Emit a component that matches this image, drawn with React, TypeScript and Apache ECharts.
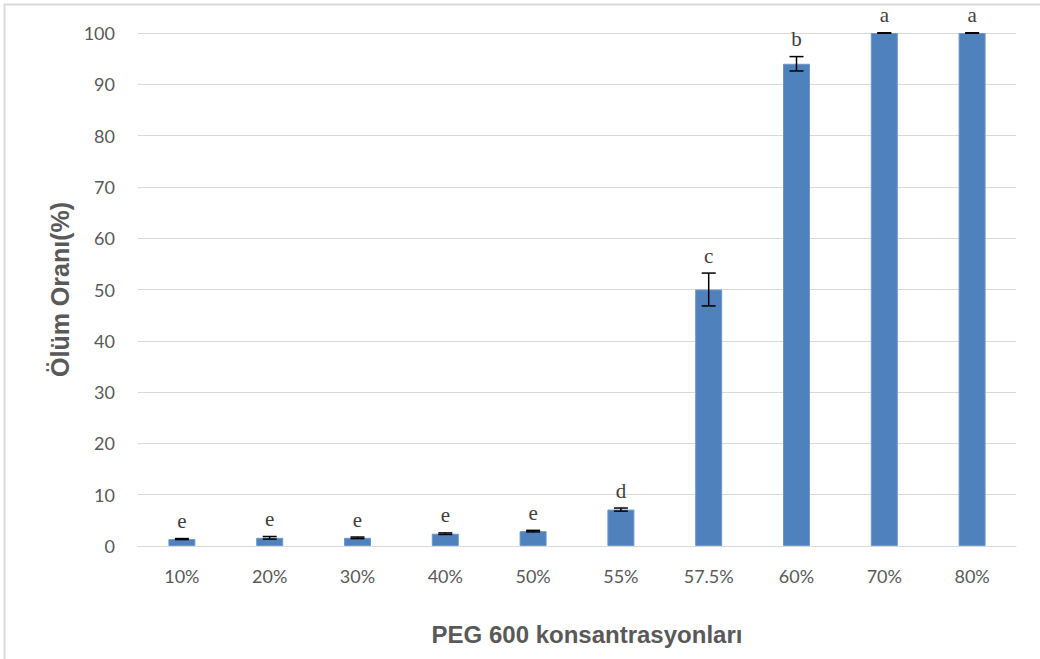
import React, { useEffect, useRef } from "react";
import * as echarts from "echarts";

const categories = ["10%", "20%", "30%", "40%", "50%", "55%", "57.5%", "60%", "70%", "80%"];
const values = [1.35, 1.6, 1.6, 2.4, 2.9, 7.1, 50, 94, 100, 100];
const errors = [0.1, 0.25, 0.15, 0.15, 0.15, 0.3, 3.2, 1.4, 0.05, 0.05];
const letters = ["e", "e", "e", "e", "e", "d", "c", "b", "a", "a"];
const yTicks = [0, 10, 20, 30, 40, 50, 60, 70, 80, 90, 100];

export default function App() {
  const ref = useRef<HTMLDivElement>(null);
  useEffect(() => {
    document.body.style.margin = "0";
    const chart = echarts.init(ref.current!, null, { renderer: "svg" });
    chart.setOption({
      animation: false,
      backgroundColor: "#ffffff",
      graphic: [
        {
          type: "rect",
          shape: { x: 4.5, y: 4.5, width: 1100, height: 700 },
          style: { fill: "none", stroke: "#d9d9d9", lineWidth: 2 },
          silent: true,
        },
      ],
      grid: { left: 138, right: 24, top: 33, bottom: 113 },
      xAxis: {
        type: "category",
        data: categories,
        name: "PEG 600 konsantrasyonları",
        nameLocation: "middle",
        nameGap: 76,
        nameTextStyle: {
          fontFamily: "Liberation Sans",
          fontWeight: "bold",
          fontSize: 24,
          color: "#595959",
          padding: [0, 0, 0, 20],
        },
        axisLine: { show: true, lineStyle: { color: "#d9d9d9", width: 1 } },
        axisTick: { show: false },
        axisLabel: {
          margin: 21,
          fontFamily: "Lato",
          fontSize: 18,
          color: "#595959",
        },
      },
      yAxis: {
        type: "value",
        min: 0,
        max: 100,
        interval: 10,
        name: "Ölüm Oranı(%)",
        nameLocation: "middle",
        nameGap: 60,
        nameRotate: 90,
        nameTextStyle: {
          fontFamily: "Liberation Sans",
          fontWeight: "bold",
          fontSize: 25,
          color: "#595959",
        },
        axisLine: { show: false },
        axisTick: { show: false },
        axisLabel: {
          margin: 23,
          fontFamily: "Lato",
          fontSize: 18,
          color: "#595959",
          formatter: (v: number) => (yTicks.includes(v) ? String(v) : ""),
        },
        splitLine: { lineStyle: { color: "#d9d9d9", width: 1 } },
      },
      series: [
        {
          type: "bar",
          data: values,
          barWidth: 27,
          itemStyle: { color: "#4f81bd", borderColor: "#6d97cc", borderWidth: 1 },
        },
        {
          type: "custom",
          data: values.map((v, i) => [i, v, errors[i]]),
          z: 10,
          renderItem: (params: any, api: any) => {
            const i = api.value(0);
            const v = api.value(1);
            const e = api.value(2);
            const top = api.coord([i, v + e]);
            const bot = api.coord([i, v - e]);
            const half = 7;
            const stroke = { stroke: "#000000", lineWidth: 1.5 };
            return {
              type: "group",
              children: [
                { type: "line", shape: { x1: top[0], y1: top[1], x2: bot[0], y2: bot[1] }, style: stroke },
                { type: "line", shape: { x1: top[0] - half, y1: top[1], x2: top[0] + half, y2: top[1] }, style: stroke },
                { type: "line", shape: { x1: bot[0] - half, y1: bot[1], x2: bot[0] + half, y2: bot[1] }, style: stroke },
                {
                  type: "text",
                  style: {
                    text: letters[params.dataIndex],
                    x: top[0],
                    y: top[1] - 7,
                    textAlign: "center",
                    textVerticalAlign: "bottom",
                    font: '21px "Liberation Serif"',
                    fill: "#404040",
                  },
                },
              ],
            };
          },
        },
      ],
    });
    return () => chart.dispose();
  }, []);
  return (
    <div
      ref={ref}
      style={{ position: "absolute", left: 0, top: 0, width: 1040, height: 659 }}
    />
  );
}
